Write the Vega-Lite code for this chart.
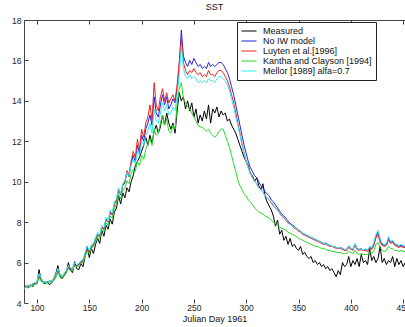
{
  "$schema": "https://vega.github.io/schema/vega-lite/v6.json",
  "width": 381,
  "height": 283,
  "autosize": {"type": "none"},
  "padding": {"left": 24, "top": 20, "right": 0, "bottom": 24},
  "background": "white",
  "title": {"text": "SST", "font": "Liberation Sans", "fontSize": 9, "fontWeight": "normal", "color": "#111", "offset": 4},
  "config": {
    "view": {"stroke": null},
    "axis": {
      "labelFont": "Liberation Sans", "titleFont": "Liberation Sans",
      "labelFontSize": 8.5, "titleFontSize": 9, "titleFontWeight": "normal",
      "labelColor": "#222", "titleColor": "#111",
      "domainColor": "#444", "tickColor": "#444", "grid": false, "labelFlush": false
    },
    "legend": {
      "labelFont": "Liberation Sans", "labelFontSize": 9, "labelColor": "#111"
    }
  },
  "data": {
    "values": [
      {"d":88,"M":4.80,"B":4.75,"R":4.75,"K":4.75,"C":4.70},
      {"d":90,"M":4.85,"B":4.80,"R":4.80,"K":4.80,"C":4.85},
      {"d":92,"M":4.75,"B":4.85,"R":4.80,"K":4.80,"C":4.90},
      {"d":94,"M":4.90,"B":4.80,"R":4.85,"K":4.85,"C":4.80},
      {"d":96,"M":4.80,"B":4.95,"R":4.90,"K":4.85,"C":5.00},
      {"d":98,"M":5.00,"B":4.90,"R":4.95,"K":4.90,"C":4.90},
      {"d":100,"M":4.95,"B":5.05,"R":5.00,"K":4.95,"C":5.10},
      {"d":102,"M":5.65,"B":5.30,"R":5.35,"K":5.25,"C":5.45},
      {"d":104,"M":5.10,"B":5.20,"R":5.20,"K":5.10,"C":5.25},
      {"d":106,"M":5.00,"B":5.00,"R":5.05,"K":5.00,"C":5.00},
      {"d":108,"M":4.95,"B":5.05,"R":5.00,"K":5.00,"C":5.05},
      {"d":110,"M":5.05,"B":5.00,"R":5.05,"K":5.00,"C":4.95},
      {"d":112,"M":4.90,"B":5.10,"R":5.05,"K":5.05,"C":5.10},
      {"d":114,"M":5.00,"B":5.05,"R":5.10,"K":5.00,"C":5.05},
      {"d":116,"M":5.20,"B":5.15,"R":5.15,"K":5.10,"C":5.20},
      {"d":118,"M":5.45,"B":5.35,"R":5.35,"K":5.25,"C":5.40},
      {"d":120,"M":5.85,"B":5.60,"R":5.55,"K":5.50,"C":5.70},
      {"d":122,"M":5.30,"B":5.40,"R":5.40,"K":5.35,"C":5.45},
      {"d":124,"M":5.20,"B":5.25,"R":5.30,"K":5.20,"C":5.30},
      {"d":126,"M":5.35,"B":5.40,"R":5.40,"K":5.35,"C":5.50},
      {"d":128,"M":5.50,"B":5.55,"R":5.50,"K":5.50,"C":5.60},
      {"d":130,"M":6.00,"B":5.80,"R":5.75,"K":5.70,"C":5.85},
      {"d":132,"M":5.60,"B":5.65,"R":5.70,"K":5.60,"C":5.75},
      {"d":134,"M":5.50,"B":5.70,"R":5.65,"K":5.60,"C":5.70},
      {"d":136,"M":6.05,"B":5.95,"R":5.90,"K":5.85,"C":6.00},
      {"d":138,"M":5.70,"B":5.85,"R":5.80,"K":5.80,"C":5.90},
      {"d":140,"M":5.65,"B":5.90,"R":5.90,"K":5.85,"C":5.95},
      {"d":142,"M":5.95,"B":6.05,"R":6.00,"K":5.95,"C":6.10},
      {"d":144,"M":5.80,"B":6.10,"R":6.05,"K":6.00,"C":6.15},
      {"d":146,"M":6.30,"B":6.45,"R":6.40,"K":6.30,"C":6.50},
      {"d":148,"M":6.80,"B":6.70,"R":6.65,"K":6.55,"C":6.80},
      {"d":150,"M":6.25,"B":6.55,"R":6.50,"K":6.45,"C":6.60},
      {"d":152,"M":6.70,"B":6.80,"R":6.75,"K":6.70,"C":6.90},
      {"d":154,"M":6.45,"B":6.90,"R":6.85,"K":6.80,"C":6.95},
      {"d":156,"M":6.90,"B":7.15,"R":7.10,"K":7.00,"C":7.25},
      {"d":158,"M":7.20,"B":7.40,"R":7.35,"K":7.30,"C":7.50},
      {"d":160,"M":6.95,"B":7.30,"R":7.30,"K":7.20,"C":7.40},
      {"d":162,"M":7.60,"B":7.75,"R":7.70,"K":7.60,"C":7.85},
      {"d":164,"M":7.30,"B":7.65,"R":7.65,"K":7.55,"C":7.75},
      {"d":166,"M":7.85,"B":8.15,"R":8.10,"K":7.95,"C":8.25},
      {"d":168,"M":7.65,"B":8.00,"R":8.00,"K":7.85,"C":8.05},
      {"d":170,"M":8.15,"B":8.50,"R":8.45,"K":8.30,"C":8.60},
      {"d":172,"M":7.90,"B":8.35,"R":8.35,"K":8.20,"C":8.45},
      {"d":174,"M":8.50,"B":8.90,"R":8.90,"K":8.70,"C":9.00},
      {"d":176,"M":8.70,"B":9.10,"R":9.05,"K":8.90,"C":9.15},
      {"d":178,"M":9.30,"B":9.60,"R":9.65,"K":9.40,"C":9.70},
      {"d":180,"M":8.90,"B":9.35,"R":9.40,"K":9.15,"C":9.40},
      {"d":182,"M":9.45,"B":9.80,"R":9.85,"K":9.60,"C":9.90},
      {"d":184,"M":9.20,"B":9.95,"R":10.00,"K":9.65,"C":10.05},
      {"d":186,"M":9.70,"B":10.45,"R":10.55,"K":10.05,"C":10.45},
      {"d":188,"M":9.50,"B":10.25,"R":10.35,"K":9.90,"C":10.30},
      {"d":190,"M":10.00,"B":10.90,"R":11.00,"K":10.40,"C":10.80},
      {"d":192,"M":10.30,"B":11.30,"R":11.50,"K":10.60,"C":11.10},
      {"d":194,"M":10.80,"B":11.00,"R":11.20,"K":10.50,"C":10.90},
      {"d":196,"M":11.00,"B":11.80,"R":12.10,"K":11.00,"C":11.50},
      {"d":198,"M":11.20,"B":11.40,"R":11.60,"K":10.80,"C":11.30},
      {"d":200,"M":11.50,"B":12.30,"R":12.60,"K":11.30,"C":12.00},
      {"d":202,"M":11.80,"B":12.00,"R":12.20,"K":11.10,"C":11.80},
      {"d":204,"M":12.20,"B":12.60,"R":12.90,"K":11.60,"C":12.30},
      {"d":206,"M":11.80,"B":12.90,"R":13.20,"K":11.90,"C":12.50},
      {"d":208,"M":12.30,"B":13.30,"R":13.80,"K":12.10,"C":12.90},
      {"d":210,"M":11.90,"B":12.80,"R":13.00,"K":11.80,"C":12.40},
      {"d":212,"M":12.50,"B":14.20,"R":14.90,"K":12.60,"C":13.60},
      {"d":214,"M":12.80,"B":13.40,"R":13.80,"K":12.30,"C":13.00},
      {"d":216,"M":12.40,"B":13.20,"R":13.50,"K":12.40,"C":12.90},
      {"d":218,"M":12.70,"B":13.80,"R":14.20,"K":12.90,"C":13.40},
      {"d":220,"M":13.30,"B":14.30,"R":14.60,"K":13.30,"C":13.90},
      {"d":222,"M":12.80,"B":13.80,"R":14.00,"K":12.80,"C":13.50},
      {"d":224,"M":13.40,"B":14.20,"R":14.40,"K":13.10,"C":13.80},
      {"d":226,"M":12.90,"B":13.60,"R":13.90,"K":12.50,"C":13.30},
      {"d":228,"M":12.60,"B":13.80,"R":14.10,"K":12.40,"C":13.40},
      {"d":230,"M":12.90,"B":14.10,"R":14.30,"K":12.80,"C":13.70},
      {"d":232,"M":12.40,"B":13.90,"R":14.00,"K":12.60,"C":13.50},
      {"d":234,"M":13.50,"B":14.60,"R":14.80,"K":13.90,"C":14.30},
      {"d":236,"M":14.40,"B":15.80,"R":15.90,"K":14.60,"C":15.30},
      {"d":238,"M":14.00,"B":17.50,"R":17.10,"K":14.90,"C":16.70},
      {"d":240,"M":14.20,"B":16.20,"R":15.90,"K":14.10,"C":15.60},
      {"d":242,"M":13.60,"B":15.90,"R":15.50,"K":13.90,"C":15.20},
      {"d":244,"M":14.00,"B":15.70,"R":15.30,"K":13.70,"C":15.10},
      {"d":246,"M":13.50,"B":16.00,"R":15.50,"K":13.60,"C":15.30},
      {"d":248,"M":13.90,"B":15.80,"R":15.40,"K":13.40,"C":15.10},
      {"d":250,"M":13.20,"B":16.10,"R":15.60,"K":13.20,"C":15.20},
      {"d":252,"M":13.60,"B":15.90,"R":15.40,"K":13.00,"C":15.10},
      {"d":254,"M":12.90,"B":15.70,"R":15.30,"K":12.80,"C":14.90},
      {"d":256,"M":13.30,"B":15.80,"R":15.40,"K":12.70,"C":15.00},
      {"d":258,"M":13.00,"B":15.60,"R":15.20,"K":12.70,"C":14.90},
      {"d":260,"M":13.50,"B":15.70,"R":15.30,"K":12.60,"C":15.00},
      {"d":262,"M":13.10,"B":15.60,"R":15.20,"K":12.50,"C":14.90},
      {"d":264,"M":13.80,"B":15.90,"R":15.50,"K":12.60,"C":15.10},
      {"d":266,"M":12.90,"B":15.70,"R":15.30,"K":12.40,"C":15.00},
      {"d":268,"M":13.60,"B":15.80,"R":15.30,"K":12.30,"C":15.00},
      {"d":270,"M":13.40,"B":15.70,"R":15.20,"K":12.20,"C":14.90},
      {"d":272,"M":13.70,"B":15.80,"R":15.40,"K":12.30,"C":15.10},
      {"d":274,"M":13.20,"B":15.90,"R":15.50,"K":12.50,"C":15.20},
      {"d":276,"M":13.50,"B":15.90,"R":15.50,"K":12.60,"C":15.20},
      {"d":278,"M":13.30,"B":15.80,"R":15.40,"K":12.60,"C":15.10},
      {"d":280,"M":13.40,"B":15.60,"R":15.20,"K":12.30,"C":15.00},
      {"d":282,"M":13.00,"B":15.40,"R":15.00,"K":12.00,"C":14.80},
      {"d":284,"M":13.10,"B":15.10,"R":14.70,"K":11.70,"C":14.50},
      {"d":286,"M":12.80,"B":14.70,"R":14.30,"K":11.30,"C":14.10},
      {"d":288,"M":12.60,"B":14.30,"R":13.90,"K":10.90,"C":13.70},
      {"d":290,"M":12.40,"B":13.80,"R":13.40,"K":10.50,"C":13.20},
      {"d":292,"M":12.10,"B":13.30,"R":12.90,"K":10.10,"C":12.80},
      {"d":294,"M":11.80,"B":12.80,"R":12.40,"K":9.80,"C":12.30},
      {"d":296,"M":11.50,"B":12.30,"R":11.90,"K":9.60,"C":11.80},
      {"d":298,"M":11.20,"B":11.80,"R":11.40,"K":9.40,"C":11.40},
      {"d":300,"M":11.00,"B":11.40,"R":11.00,"K":9.30,"C":11.00},
      {"d":302,"M":10.80,"B":11.00,"R":10.70,"K":9.10,"C":10.70},
      {"d":304,"M":10.40,"B":10.70,"R":10.40,"K":9.00,"C":10.40},
      {"d":306,"M":10.30,"B":10.50,"R":10.20,"K":8.85,"C":10.20},
      {"d":308,"M":10.00,"B":10.30,"R":10.00,"K":8.70,"C":10.00},
      {"d":310,"M":10.20,"B":10.20,"R":9.90,"K":8.60,"C":9.90},
      {"d":312,"M":9.80,"B":10.00,"R":9.70,"K":8.50,"C":9.70},
      {"d":314,"M":9.60,"B":9.80,"R":9.60,"K":8.45,"C":9.60},
      {"d":316,"M":9.90,"B":9.70,"R":9.50,"K":8.40,"C":9.50},
      {"d":318,"M":9.30,"B":9.50,"R":9.30,"K":8.30,"C":9.30},
      {"d":320,"M":9.00,"B":9.40,"R":9.20,"K":8.25,"C":9.20},
      {"d":322,"M":8.80,"B":9.30,"R":9.10,"K":8.20,"C":9.10},
      {"d":324,"M":8.60,"B":9.10,"R":8.95,"K":8.10,"C":9.00},
      {"d":326,"M":8.30,"B":9.00,"R":8.80,"K":8.00,"C":8.85},
      {"d":328,"M":7.80,"B":8.85,"R":8.70,"K":7.95,"C":8.70},
      {"d":330,"M":8.10,"B":8.70,"R":8.60,"K":7.85,"C":8.60},
      {"d":332,"M":7.40,"B":8.55,"R":8.45,"K":7.75,"C":8.50},
      {"d":334,"M":7.60,"B":8.40,"R":8.30,"K":7.70,"C":8.35},
      {"d":336,"M":7.10,"B":8.30,"R":8.20,"K":7.65,"C":8.25},
      {"d":338,"M":7.30,"B":8.20,"R":8.10,"K":7.60,"C":8.15},
      {"d":340,"M":6.90,"B":8.05,"R":7.95,"K":7.50,"C":8.00},
      {"d":342,"M":7.20,"B":7.95,"R":7.90,"K":7.45,"C":7.90},
      {"d":344,"M":6.80,"B":7.85,"R":7.80,"K":7.40,"C":7.80},
      {"d":346,"M":6.90,"B":7.80,"R":7.70,"K":7.35,"C":7.75},
      {"d":348,"M":6.70,"B":7.70,"R":7.65,"K":7.30,"C":7.70},
      {"d":350,"M":6.60,"B":7.60,"R":7.55,"K":7.20,"C":7.60},
      {"d":352,"M":6.80,"B":7.55,"R":7.50,"K":7.15,"C":7.55},
      {"d":354,"M":6.40,"B":7.45,"R":7.40,"K":7.10,"C":7.45},
      {"d":356,"M":6.50,"B":7.40,"R":7.35,"K":7.05,"C":7.40},
      {"d":358,"M":6.30,"B":7.35,"R":7.30,"K":7.00,"C":7.35},
      {"d":360,"M":6.20,"B":7.30,"R":7.25,"K":6.95,"C":7.30},
      {"d":362,"M":6.30,"B":7.25,"R":7.20,"K":6.90,"C":7.25},
      {"d":364,"M":6.00,"B":7.20,"R":7.15,"K":6.85,"C":7.20},
      {"d":366,"M":6.10,"B":7.15,"R":7.10,"K":6.80,"C":7.15},
      {"d":368,"M":5.90,"B":7.10,"R":7.05,"K":6.80,"C":7.10},
      {"d":370,"M":6.00,"B":7.05,"R":7.00,"K":6.75,"C":7.05},
      {"d":372,"M":5.80,"B":7.00,"R":6.95,"K":6.70,"C":7.00},
      {"d":374,"M":5.90,"B":6.95,"R":6.90,"K":6.70,"C":6.95},
      {"d":376,"M":5.70,"B":6.95,"R":6.90,"K":6.65,"C":6.90},
      {"d":378,"M":5.80,"B":6.90,"R":6.85,"K":6.60,"C":6.90},
      {"d":380,"M":5.60,"B":6.85,"R":6.80,"K":6.60,"C":6.85},
      {"d":382,"M":5.70,"B":6.80,"R":6.80,"K":6.55,"C":6.80},
      {"d":384,"M":5.50,"B":6.80,"R":6.75,"K":6.55,"C":6.80},
      {"d":386,"M":5.30,"B":6.75,"R":6.70,"K":6.50,"C":6.75},
      {"d":388,"M":5.60,"B":6.70,"R":6.70,"K":6.50,"C":6.70},
      {"d":390,"M":5.40,"B":6.75,"R":6.70,"K":6.50,"C":6.75},
      {"d":392,"M":6.00,"B":6.70,"R":6.65,"K":6.45,"C":6.70},
      {"d":394,"M":5.80,"B":6.65,"R":6.60,"K":6.45,"C":6.65},
      {"d":396,"M":5.90,"B":6.65,"R":6.60,"K":6.45,"C":6.65},
      {"d":398,"M":6.30,"B":6.80,"R":6.75,"K":6.55,"C":6.85},
      {"d":400,"M":5.80,"B":6.70,"R":6.65,"K":6.50,"C":6.70},
      {"d":402,"M":6.10,"B":6.65,"R":6.60,"K":6.45,"C":6.65},
      {"d":404,"M":5.90,"B":6.90,"R":6.85,"K":6.60,"C":6.95},
      {"d":406,"M":6.20,"B":6.70,"R":6.65,"K":6.45,"C":6.70},
      {"d":408,"M":5.80,"B":6.65,"R":6.60,"K":6.40,"C":6.65},
      {"d":410,"M":6.40,"B":6.70,"R":6.65,"K":6.45,"C":6.70},
      {"d":412,"M":6.00,"B":6.60,"R":6.60,"K":6.40,"C":6.60},
      {"d":414,"M":6.10,"B":6.65,"R":6.60,"K":6.40,"C":6.70},
      {"d":416,"M":5.90,"B":6.60,"R":6.55,"K":6.40,"C":6.60},
      {"d":418,"M":6.70,"B":6.75,"R":6.70,"K":6.50,"C":6.80},
      {"d":420,"M":6.10,"B":6.70,"R":6.65,"K":6.45,"C":6.75},
      {"d":422,"M":6.30,"B":6.90,"R":6.85,"K":6.60,"C":7.00},
      {"d":424,"M":6.00,"B":7.30,"R":7.20,"K":6.90,"C":7.40},
      {"d":426,"M":6.20,"B":7.50,"R":7.40,"K":7.00,"C":7.60},
      {"d":428,"M":6.80,"B":7.10,"R":7.00,"K":6.75,"C":7.20},
      {"d":430,"M":6.00,"B":6.90,"R":6.85,"K":6.60,"C":6.95},
      {"d":432,"M":6.20,"B":6.85,"R":6.80,"K":6.55,"C":6.90},
      {"d":434,"M":5.90,"B":6.90,"R":6.85,"K":6.60,"C":6.95},
      {"d":436,"M":6.10,"B":7.20,"R":7.10,"K":6.80,"C":7.30},
      {"d":438,"M":6.00,"B":7.00,"R":6.95,"K":6.70,"C":7.05},
      {"d":440,"M":6.30,"B":7.05,"R":7.00,"K":6.70,"C":7.10},
      {"d":442,"M":5.80,"B":6.90,"R":6.85,"K":6.60,"C":6.95},
      {"d":444,"M":6.20,"B":6.85,"R":6.80,"K":6.60,"C":6.90},
      {"d":446,"M":5.90,"B":6.80,"R":6.75,"K":6.55,"C":6.85},
      {"d":448,"M":6.10,"B":6.85,"R":6.80,"K":6.60,"C":6.90},
      {"d":450,"M":5.80,"B":6.80,"R":6.75,"K":6.55,"C":6.85},
      {"d":452,"M":6.00,"B":6.80,"R":6.75,"K":6.55,"C":6.80}
    ]
  },
  "transform": [{"fold": ["M", "B", "R", "K", "C"], "as": ["series", "sst"]}],
  "layer": [
    {
      "mark": {"type": "line", "clip": true, "strokeJoin": "miter"},
      "encoding": {
        "x": {
          "field": "d", "type": "quantitative",
          "scale": {"domain": [87.6, 451.8], "nice": false, "zero": false},
          "axis": {
            "orient": "bottom", "title": "Julian Day 1961",
            "values": [100, 150, 200, 250, 300, 350, 400, 450],
            "domain": false, "tickSize": -4, "labelPadding": 4, "titlePadding": 3
          }
        },
        "y": {
          "field": "sst", "type": "quantitative",
          "scale": {"domain": [4, 18], "nice": false, "zero": false},
          "axis": {
            "title": null, "values": [4, 6, 8, 10, 12, 14, 16, 18],
            "tickSize": -4, "labelPadding": 7
          }
        },
        "color": {
          "field": "series", "type": "nominal",
          "scale": {
            "domain": ["M", "B", "R", "K", "C"],
            "range": ["#000000", "#2222dd", "#ee2222", "#22dd22", "#33eeee"]
          },
          "legend": {
            "orient": "none", "legendX": 213, "legendY": 2, "title": null,
            "symbolType": "stroke", "symbolSize": 225, "clipHeight": 10, "rowPadding": 0,
            "labelOffset": 6, "padding": 4,
            "strokeColor": "#222", "fillColor": "white",
            "labelExpr": "{'M': 'Measured', 'B': 'No IW model', 'R': 'Luyten et al.[1996]', 'K': 'Kantha and Clayson [1994]', 'C': 'Mellor [1989] alfa=0.7'}[datum.label]"
          }
        },
        "strokeWidth": {
          "field": "series", "type": "nominal",
          "scale": {"domain": ["M", "B", "R", "K", "C"], "range": [1, 1, 1, 1, 1.8]},
          "legend": null
        }
      }
    },
    {
      "mark": {"type": "rule", "opacity": 0},
      "encoding": {
        "x": {
          "field": "d", "type": "quantitative",
          "axis": {
            "orient": "top", "title": null, "labels": false,
            "values": [100, 150, 200, 250, 300, 350, 400, 450], "tickSize": -4
          }
        }
      }
    }
  ]
}
